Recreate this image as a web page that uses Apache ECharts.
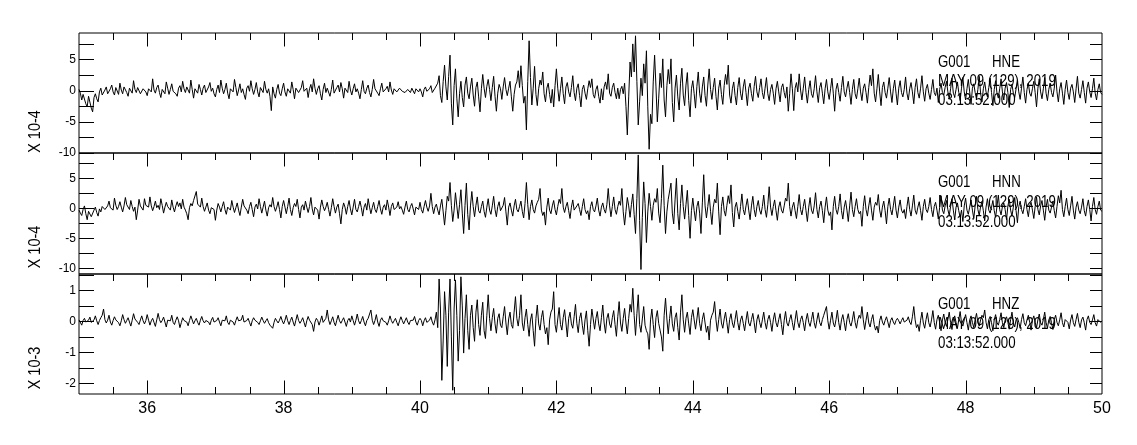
<!DOCTYPE html>
<html><head><meta charset="utf-8">
<script src="https://cdn.jsdelivr.net/npm/echarts@6/dist/echarts.min.js"></script>
<style>html,body{margin:0;padding:0;background:#fff}#c{width:1137px;height:445px}#err{position:absolute;left:100px;top:0;color:red;font:12px sans-serif}</style>
</head><body><div id="c"></div><div id="err"></div>
<script>
window.onerror = function (m) { document.getElementById('err').textContent += ' ERR: ' + m; };
// sampling of the traces (seconds)
const T0 = 35, DT = 0.02;
// G001 HNE, units 1e-4 (one row per second)
const hne = [
0.2,-0.4,-1.5,-0.6,-0.8,-2.1,-2.6,-0.9,-1.2,-2.8,-3.4,-1.1,-0.5,-1.3,-1.8,-0.2,0.4,-0.7,-1.0,0.1,0.6,-0.5,-0.4,0.3,0.9,-0.2,-0.7,0.5,0.3,-0.6,1.2,0.1,-0.5,0.6,0.8,-0.3,-0.9,0.4,0.5,-0.4,1.6,0.2,-0.3,0.5,0.7,-0.5,-0.6,0.3,0.4,-0.2,
-0.8,0.3,0.6,-0.2,1.9,0.1,-0.4,0.5,0.9,-0.3,-1.1,0.2,0.3,-0.5,1.4,0.4,-0.6,0.2,1.1,-0.1,0.2,-0.5,-0.9,0.4,0.8,-0.2,1.5,0.3,-0.3,0.6,0.8,-0.4,1.7,0.2,-1.2,0.3,0.5,-0.4,1.0,0.2,-0.7,0.4,0.9,-0.3,-0.2,0.6,1.3,-0.1,0.4,-0.5,
-1.0,0.2,0.9,-0.3,1.7,0.4,-0.5,0.2,1.2,-0.4,-1.3,0.3,0.6,-0.2,1.8,0.5,-0.8,0.1,1.1,-0.3,0.3,-0.6,-1.4,0.4,0.8,-0.1,1.6,0.3,-0.6,0.2,1.3,-0.2,-1.0,0.5,0.7,-0.3,1.5,0.2,-0.4,0.3,-0.9,-3.2,0.6,-0.5,-1.2,0.2,1.0,-0.4,-0.8,0.3,
1.2,-0.2,-0.9,0.3,0.5,-0.4,1.4,0.2,-1.3,0.4,0.7,-0.3,-0.4,0.5,1.6,-0.1,0.2,0.4,-1.1,0.3,1.0,-0.2,1.9,0.4,-0.6,0.3,0.8,-0.5,-1.5,0.2,1.2,-0.3,0.4,0.6,-0.9,0.2,1.7,-0.4,-0.3,0.5,0.9,-0.2,1.3,0.3,-1.2,0.4,0.6,-0.3,1.5,0.1,
-0.7,0.3,1.1,-0.2,0.3,-0.4,-1.3,0.2,1.6,-0.1,-0.5,0.4,0.9,-0.3,-1.0,0.2,1.8,0.3,0.2,-0.4,-0.8,0.3,1.2,-0.2,-0.4,0.3,0.7,-0.2,1.4,0.1,-0.6,0.3,0.5,-0.2,-0.3,0.4,0.6,-0.1,0.2,-0.3,-0.6,0.2,0.5,-0.3,0.4,0.1,-0.5,0.3,0.6,-0.2,
0.3,-0.2,-1.0,0.2,0.6,-0.1,-0.4,0.3,0.8,-0.3,-0.2,0.4,0.5,1.2,2.4,-0.8,-1.9,1.5,4.1,0.6,-1.5,2.3,5.7,-2.0,-5.5,0.8,3.5,-1.2,-4.2,-0.5,1.5,-1.1,-2.6,0.9,2.2,-0.4,-1.3,0.6,2.0,-0.7,-2.5,0.5,1.4,-1.0,-3.4,0.3,2.6,0.4,-1.1,0.7,
1.8,0.2,-1.6,0.5,2.3,-0.9,-3.3,-0.4,1.0,0.3,-1.4,0.6,2.1,0.2,-0.8,0.4,1.5,-1.0,-3.3,-0.6,0.9,1.4,3.2,0.5,4.0,0.8,-2.0,-0.9,-6.3,1.5,8.0,2.1,-2.3,0.4,3.9,-0.6,-2.4,0.3,1.7,0.9,3.0,-0.5,-1.8,0.4,1.2,-0.6,-2.0,0.2,-2.6,0.8,
3.5,0.4,-1.7,0.3,2.2,-0.5,-2.1,0.6,1.3,-0.2,-1.0,0.5,2.4,-0.3,-1.6,0.4,1.1,-0.8,-2.6,0.2,0.9,-0.4,-1.4,0.3,1.6,0.5,1.9,-0.6,-1.2,0.2,0.8,-0.9,-2.0,0.3,-1.5,0.6,1.4,0.2,2.7,-0.4,-0.9,0.5,1.2,-0.3,-1.3,0.4,-1.3,0.2,0.7,-0.5,
1.2,-2.5,-7.1,-1.0,4.6,2.2,7.5,3.0,8.8,1.5,-5.5,-1.8,2.0,-0.8,4.3,1.2,6.4,-2.6,-9.4,-3.8,-5.3,1.4,5.7,0.6,-5.0,-1.2,2.8,0.5,5.1,-1.5,-4.2,0.8,3.4,1.1,5.1,-1.9,-5.0,0.4,2.5,-1.0,-3.1,1.2,3.6,-0.7,-2.4,0.9,2.9,-1.6,-4.2,0.3,
1.6,-0.5,-2.8,0.7,3.0,-0.4,-1.9,0.6,2.2,-0.8,-2.5,0.9,3.5,0.2,-1.4,0.5,2.0,-0.9,-3.1,0.4,1.7,-0.6,-2.2,0.8,2.6,1.0,4.1,-0.7,-2.0,0.3,1.4,-0.8,-2.3,0.5,2.1,-0.4,-1.5,0.6,1.8,-0.3,-2.4,0.4,1.2,-0.5,-1.7,0.7,2.3,-0.2,-1.1,0.5,
1.9,-0.3,-1.3,0.4,2.1,-0.5,-1.6,0.2,1.0,-0.4,-2.2,0.3,1.5,-0.2,-1.8,0.5,1.1,-0.3,-1.2,0.6,-3.3,-0.5,2.7,0.3,-3.2,0.4,1.3,-0.2,2.7,0.1,-1.5,0.4,2.2,-0.3,-2.0,0.2,1.6,-0.5,-1.1,0.3,2.4,-0.2,-1.9,0.5,1.3,-0.4,-2.1,0.3,1.8,-0.2,
-1.4,0.3,2.0,-0.4,-3.3,0.2,1.2,-0.3,-1.7,0.5,2.3,-0.2,-1.0,0.4,1.5,-0.3,-2.2,0.2,1.8,-0.5,-1.3,0.3,2.0,-0.2,-1.6,0.4,1.1,-0.3,-2.0,0.5,2.5,0.8,3.5,-0.4,-1.8,0.3,2.6,-0.2,-2.4,0.5,1.4,-0.3,-1.2,0.4,2.1,-0.2,-1.9,0.3,1.7,-0.4,
-2.3,0.4,1.6,-0.3,-1.0,0.2,2.2,-0.4,-1.5,0.3,1.3,-0.2,-2.1,0.5,1.9,-0.3,-1.2,0.4,2.4,-0.2,-1.7,0.3,1.0,-0.4,-1.4,0.2,1.8,-0.3,-0.8,0.4,-1.9,0.2,1.2,-0.3,-0.7,0.5,1.5,-0.2,-1.3,0.3,2.0,-0.4,-1.0,0.2,1.4,-0.3,-1.6,0.4,2.1,-0.2,
-1.5,0.3,1.8,-0.2,-2.2,0.4,1.1,-0.3,-1.3,0.2,2.3,-0.4,-1.8,0.3,1.4,-0.2,-1.0,0.5,2.0,-0.3,-2.4,0.2,1.6,-0.4,-1.2,0.3,1.9,-0.2,-1.5,0.4,1.3,-0.3,-2.7,0.2,1.0,-0.4,-1.1,0.3,1.7,-0.2,-1.4,0.4,2.2,-0.3,-2.0,0.2,1.2,-0.4,-0.9,0.3,
1.5,-0.3,-2.6,0.4,1.9,-0.2,-1.3,0.3,2.1,-0.4,-1.6,0.2,1.2,-0.3,-1.0,0.4,2.5,-0.2,-1.8,0.3,1.3,-0.4,-2.2,0.2,1.7,-0.3,-1.4,0.4,1.0,-0.2,-1.9,0.3,2.3,-0.4,-1.2,0.2,1.6,-0.3,-2.0,0.4,1.4,-0.2,-1.1,0.3,2.0,-0.4,-1.5,0.2,1.1,-0.3,
-0.6];
// G001 HNN, units 1e-4
const hnn = [
-0.3,-0.8,-1.2,-0.2,0.4,-0.9,-1.9,-0.5,-0.8,-1.4,-1.5,-0.3,0.2,-0.7,-1.3,-0.1,-0.6,0.3,0.5,-0.2,-0.4,0.4,1.2,0.1,0.3,-0.3,1.7,0.5,-0.2,0.3,1.1,0.2,-0.6,0.4,1.8,0.6,0.4,-0.2,1.3,0.3,-0.5,0.2,-1.9,-0.3,1.5,0.4,0.2,-0.3,1.6,0.5,
0.7,0.2,1.9,0.4,-0.4,0.3,1.2,0.1,0.5,-0.2,1.6,0.5,-0.8,0.2,1.0,0.3,0.3,-0.3,1.4,0.2,-0.6,0.4,1.1,0.3,0.9,-0.1,1.5,0.2,-0.3,-0.9,-1.9,0.1,0.8,0.4,1.3,1.0,2.8,0.7,0.6,0.2,1.7,0.3,-0.5,0.2,0.9,-0.3,-0.9,0.1,0.4,-0.2,
-2.0,-0.3,0.8,0.2,-0.6,0.3,1.1,-0.2,-1.0,0.2,0.5,-0.3,1.3,0.2,-0.7,0.1,0.9,-0.3,-1.2,0.2,1.5,0.4,0.2,-0.3,-0.9,0.3,1.0,-0.2,-1.4,0.2,0.7,-0.1,1.6,0.3,-0.8,0.2,1.2,-0.3,-1.3,0.1,0.6,0.2,1.8,0.3,-0.5,0.2,1.1,-0.2,-1.6,0.3,
1.3,0.2,-0.9,0.3,1.7,-0.2,-1.2,0.1,0.8,0.3,1.5,-0.2,-1.6,0.2,0.6,-0.3,1.2,0.2,-0.7,0.3,1.8,-0.1,-1.1,0.2,0.5,-0.3,-1.8,0.2,1.4,0.3,-0.4,0.2,1.0,-0.2,-1.3,0.1,1.6,0.3,-0.8,0.2,0.7,-0.9,-2.6,-0.2,0.9,0.2,-1.0,0.3,1.3,-0.1,
-1.1,0.2,1.5,-0.2,-0.6,0.3,1.2,0.1,-1.3,0.2,0.8,-0.3,1.6,0.2,-0.9,0.1,1.0,-0.2,-0.7,0.3,1.3,-0.1,-1.0,0.2,0.6,-0.3,1.4,0.2,-1.2,0.3,0.9,-0.2,-0.5,0.2,1.1,-0.1,0.3,-0.3,-1.0,0.2,1.2,-0.2,-0.6,0.3,0.8,-0.1,-1.1,0.2,0.5,-0.2,
1.0,-0.2,-0.8,0.3,1.3,0.2,-0.5,0.4,2.5,0.3,-0.9,0.2,0.7,-0.3,-1.1,0.4,1.5,-0.6,-2.8,-0.4,2.0,1.2,4.3,0.5,-2.2,-0.3,2.6,0.4,-1.7,0.6,3.1,-0.8,-4.2,0.5,4.2,-1.0,-3.6,0.4,2.8,0.3,-1.4,0.5,1.9,-0.4,-0.8,0.3,1.2,-0.5,-1.5,0.2,
1.6,-0.3,-1.0,0.4,2.0,-0.2,-1.4,0.3,1.1,-0.4,-0.7,0.5,1.8,-0.6,-2.8,0.2,0.9,-0.3,-1.3,0.4,1.5,-0.2,-0.6,0.3,1.2,-0.5,-1.6,0.8,4.3,0.6,-1.9,0.3,1.4,-0.2,-0.8,0.4,1.0,1.5,3.3,-0.3,-1.2,-0.6,-2.8,0.2,1.7,-0.3,-0.9,0.4,1.3,-0.2,
-1.1,0.3,1.5,0.8,3.3,0.2,-0.7,0.3,1.0,-0.4,-1.7,0.2,1.4,-0.3,-0.5,0.4,0.8,-0.2,-1.2,0.3,1.6,-0.2,-0.9,-0.4,-1.9,0.3,1.1,-0.2,-0.6,0.4,1.7,-0.3,-1.3,0.2,0.9,-0.2,-0.8,0.6,3.3,0.4,-1.4,0.3,1.9,-0.2,-1.0,0.3,1.2,0.5,3.3,-0.6,
-2.8,-0.5,1.8,0.4,-1.5,0.6,2.4,-1.0,-4.2,1.6,8.9,-2.0,-10.2,-1.5,4.4,0.8,-5.7,-0.6,2.5,0.3,-2.0,0.5,1.6,1.0,3.3,-0.8,-2.4,1.6,7.2,0.5,-4.2,-0.6,1.5,1.2,4.2,-0.8,-2.6,1.4,5.0,-0.9,-3.6,0.8,3.9,0.3,-1.8,0.6,3.0,-1.2,-5.0,-0.4,
1.7,-0.4,-2.1,0.3,1.2,-0.8,-4.2,0.9,5.6,0.4,-1.6,0.3,2.3,-0.5,-2.7,0.2,1.5,0.9,4.2,-0.6,-4.4,0.3,1.9,-0.4,-1.3,0.5,2.1,0.8,3.9,-0.7,-3.1,0.2,1.0,-0.5,-1.8,0.3,2.4,-0.2,-1.1,0.4,1.6,-0.3,-1.9,0.4,2.0,-0.2,-1.4,0.3,1.3,-0.3,
-1.0,0.3,2.2,-0.2,-1.5,0.6,3.6,0.2,-1.2,0.3,1.4,-0.4,-2.0,0.2,1.1,-0.3,-0.8,0.4,1.7,1.2,4.2,0.3,-1.3,0.2,1.0,-0.4,-1.7,0.3,2.3,-0.2,-1.1,0.3,1.5,-0.4,-2.2,0.2,1.8,-0.3,-0.9,0.4,2.6,-0.2,-1.6,0.3,1.2,-0.4,-2.4,0.2,1.9,-0.3,
-1.2,-0.6,-3.6,0.3,2.0,-0.2,-1.0,0.3,2.4,-0.4,-1.8,0.2,1.3,-0.3,-2.2,0.4,2.7,-0.2,-1.4,0.3,1.6,-0.2,-0.9,-0.5,-3.0,0.3,2.1,-0.2,-1.3,0.4,1.8,-0.3,-2.0,0.2,1.0,0.5,2.3,-0.3,-1.5,0.2,1.2,-0.4,-2.6,0.3,1.7,-0.2,-1.1,0.4,2.0,-0.3,
-1.6,0.2,1.4,-0.3,-0.8,-0.2,-1.7,0.3,1.9,-0.2,-1.3,0.4,2.2,-0.3,-1.0,0.2,1.1,-0.4,-2.0,0.3,1.5,-0.2,-0.7,0.3,1.8,-0.2,-1.4,0.3,1.0,-0.3,-1.8,0.2,2.1,-0.3,-0.9,0.4,1.3,-0.2,-1.2,0.3,1.6,-0.3,-1.9,0.2,0.9,-0.4,-1.5,-0.3,-2.2,0.4,
1.7,-0.3,-1.0,0.2,1.4,-0.3,-1.7,0.4,2.0,-0.2,-1.2,0.3,1.1,-0.4,-2.1,0.2,1.6,-0.3,-0.8,0.2,1.3,-0.4,-1.5,0.3,2.2,-0.2,-1.1,0.3,0.9,-0.2,-1.9,0.4,1.5,-0.3,-1.3,0.2,1.8,-0.4,-2.4,0.3,1.2,-0.2,-0.9,0.3,1.6,-0.2,-1.4,0.4,1.0,-0.3,
-1.7,0.3,1.9,-0.2,-1.1,0.4,1.3,-0.3,-2.0,0.2,1.5,-0.3,-0.8,0.2,1.2,-0.4,-1.6,0.3,2.1,0.9,3.0,-0.2,-1.4,0.3,1.7,-0.2,-1.2,0.4,2.0,-0.3,-1.8,0.2,1.1,-0.3,-0.9,0.2,1.6,-0.4,-1.3,0.3,1.4,-0.2,-2.1,0.3,1.8,-0.2,-1.0,0.3,1.2,-0.3,
-0.5];
// G001 HNZ, units 1e-3
const hnz = [
0.05,0.02,-0.12,0.03,0.10,-0.02,-0.08,0.04,0.14,-0.03,-0.06,0.05,0.18,0.02,-0.10,0.03,0.12,0.20,0.40,0.06,-0.05,0.04,0.20,-0.02,-0.12,0.03,0.15,0.05,0.08,-0.04,-0.14,0.02,0.22,0.06,-0.06,0.03,0.12,-0.02,-0.15,0.04,0.25,0.08,0.02,-0.03,-0.10,0.05,0.18,0.02,-0.08,0.03,
0.22,0.04,-0.12,0.02,0.10,-0.03,-0.16,0.05,0.26,0.06,-0.04,0.03,0.14,-0.02,-0.18,0.04,0.08,0.02,0.20,-0.03,-0.10,0.04,0.15,0.02,-0.20,-0.04,0.12,0.03,0.05,-0.02,-0.14,0.03,0.18,0.05,-0.08,0.02,0.10,-0.03,-0.12,0.04,0.16,0.02,-0.05,0.03,0.09,-0.02,-0.11,0.04,0.13,-0.02,
-0.06,0.03,0.12,-0.02,-0.14,0.04,0.08,0.02,0.18,-0.03,-0.10,0.04,0.06,-0.02,-0.12,0.03,0.15,0.02,-0.04,0.05,0.20,-0.02,-0.08,0.03,0.10,-0.03,-0.15,0.02,0.12,0.04,0.04,-0.03,-0.10,0.02,0.14,0.03,-0.06,0.02,0.09,-0.04,-0.12,-0.08,-0.22,-0.03,0.10,0.02,-0.05,0.04,0.16,0.02,
-0.08,0.04,0.20,0.02,-0.10,0.03,0.14,-0.02,-0.15,0.04,0.22,0.03,-0.06,0.02,0.12,-0.03,-0.18,0.02,0.16,0.04,0.04,-0.10,-0.32,-0.02,0.10,0.03,-0.12,0.02,0.18,-0.03,-0.08,0.10,0.37,0.05,-0.10,0.02,0.15,-0.03,-0.14,0.04,0.20,0.02,-0.06,0.03,0.12,-0.02,-0.16,0.03,0.10,-0.02,
0.18,0.03,-0.12,0.04,0.24,0.02,-0.08,0.03,0.16,-0.02,-0.14,0.03,0.10,0.12,0.37,0.04,-0.10,0.03,0.22,-0.02,-0.16,0.04,0.12,0.02,0.05,-0.03,-0.12,0.02,0.18,0.03,-0.06,0.02,0.10,-0.03,-0.14,0.02,0.15,0.03,-0.08,0.02,0.12,-0.02,-0.10,0.03,0.08,0.04,0.16,-0.02,-0.12,0.03,
0.10,0.03,-0.14,0.02,0.12,-0.03,-0.08,0.04,0.15,-0.02,-0.12,0.05,0.30,-0.20,1.37,0.40,-1.90,-0.60,0.96,0.20,-1.45,0.30,1.37,-0.50,-2.22,0.40,1.34,0.20,-1.28,-0.30,1.44,0.50,-1.02,0.10,0.86,-0.30,-0.90,0.20,0.53,-0.20,-0.64,0.30,0.70,-0.10,-0.45,0.20,0.62,-0.30,-0.55,0.20,
0.86,0.10,-0.30,0.12,0.42,-0.08,-0.38,0.10,0.25,-0.12,-0.20,0.15,0.48,-0.05,-0.43,0.08,0.30,-0.10,-0.22,0.30,0.80,0.10,-0.15,0.20,0.86,-0.05,-0.30,0.12,0.40,-0.10,-0.48,0.05,0.25,-0.30,-0.80,0.10,0.53,-0.08,-0.28,0.12,0.35,-0.10,-0.40,-0.20,-0.75,0.05,0.30,0.40,0.96,-0.10,
-0.35,0.08,0.45,-0.10,-0.28,0.12,0.38,-0.05,-0.50,0.10,0.30,-0.08,-0.22,0.15,0.55,-0.06,-0.36,0.10,0.28,-0.12,-0.42,0.05,0.34,-0.30,-0.80,-0.10,0.40,0.08,-0.25,0.10,0.32,-0.08,-0.30,0.12,0.53,-0.05,-0.38,0.10,0.26,-0.08,-0.20,0.12,0.35,-0.10,-0.48,0.15,0.64,-0.05,-0.32,0.10,
0.42,-0.05,-0.40,0.10,0.55,0.30,1.07,0.20,-0.45,0.25,0.86,-0.10,-0.35,0.08,0.48,-0.12,-0.30,-0.40,-0.90,0.05,0.40,-0.10,-0.52,0.12,0.35,-0.06,-0.28,-0.50,-0.96,0.20,0.75,0.08,-0.40,0.10,0.50,-0.08,-0.32,0.12,0.28,-0.20,-0.60,0.30,0.86,0.05,-0.35,0.10,0.30,-0.08,-0.42,0.12,
0.38,0.05,-0.25,0.08,0.45,-0.06,-0.30,0.07,0.28,-0.05,-0.35,-0.15,-0.60,0.04,0.20,0.30,0.64,0.05,-0.32,0.06,0.40,-0.05,-0.22,0.08,0.30,-0.04,-0.38,0.06,0.25,-0.05,-0.20,0.07,0.35,-0.04,-0.28,0.05,0.18,-0.06,-0.30,0.04,0.32,-0.05,-0.15,0.06,0.26,-0.04,-0.37,0.05,0.22,-0.03,
-0.20,0.05,0.30,-0.04,-0.25,0.06,0.20,-0.03,-0.32,0.05,0.28,-0.04,-0.18,0.06,0.25,-0.10,-0.43,0.04,0.32,-0.05,-0.15,0.06,0.22,-0.04,-0.28,0.05,0.35,-0.03,-0.20,0.06,0.18,-0.04,-0.30,0.05,0.26,-0.03,-0.16,0.06,0.30,-0.04,-0.22,0.05,0.28,-0.03,-0.14,0.06,0.20,0.15,0.48,0.02,
-0.25,0.04,0.30,-0.05,-0.18,0.06,0.36,-0.04,-0.28,0.05,0.22,-0.03,-0.30,0.06,0.25,-0.04,-0.15,0.05,0.32,-0.03,-0.22,0.06,0.20,0.10,0.48,0.05,-0.26,0.04,0.30,-0.05,-0.18,0.06,0.22,-0.10,-0.28,-0.15,-0.37,0.03,0.18,-0.02,-0.12,0.03,0.15,-0.02,-0.20,0.03,0.12,-0.02,-0.10,0.03,
0.10,0.02,-0.08,0.03,0.12,-0.02,-0.06,0.04,0.15,-0.02,-0.10,0.15,0.48,0.05,-0.20,-0.10,-0.32,0.04,0.30,-0.05,-0.22,0.06,0.28,-0.04,-0.18,0.05,0.35,-0.03,-0.25,0.06,0.20,-0.04,-0.30,0.05,0.24,-0.03,-0.16,0.06,0.30,-0.04,-0.26,0.05,0.18,-0.03,-0.22,0.06,0.32,-0.04,-0.15,0.05,
0.22,-0.04,-0.28,0.05,0.18,-0.03,-0.20,0.06,0.26,-0.04,-0.15,0.05,0.20,0.12,0.37,-0.03,-0.24,0.06,0.16,-0.04,-0.30,0.05,0.22,-0.03,-0.12,0.06,0.28,-0.04,-0.20,0.05,0.15,-0.03,-0.25,0.06,0.30,-0.04,-0.18,0.05,0.12,-0.03,-0.22,0.06,0.25,-0.04,-0.14,0.05,0.20,-0.03,-0.28,0.04,
0.18,-0.03,-0.20,0.05,0.24,-0.04,-0.12,0.06,0.30,-0.03,-0.22,0.05,0.16,-0.04,-0.26,0.06,0.20,-0.03,-0.14,0.05,0.28,-0.04,-0.18,0.06,0.12,-0.03,-0.24,0.05,0.22,-0.04,-0.16,0.06,0.26,-0.03,-0.20,0.05,0.14,-0.04,-0.28,0.06,0.18,-0.03,-0.10,0.05,0.22,-0.04,-0.15,0.06,0.10,-0.03,
0.02];

const xMin = 35, xMax = 50;
const xMinorTicks = [35.5,36,36.5,37,37.5,38,38.5,39,39.5,40,40.5,41,41.5,42,42.5,43,43.5,44,44.5,45,45.5,46,46.5,47,47.5,48,48.5,49,49.5];
const xMajorTicks = [36, 38, 40, 42, 44, 46, 48, 50];
const yRanges = [[-10, 9.25], [-10.95, 9.22], [-2.34, 1.53]];
const yTicks = [
  [-10, -7.5, -5, -2.5, 0, 2.5, 5, 7.5],
  [-10, -7.5, -5, -2.5, 0, 2.5, 5, 7.5],
  [-2, -1.5, -1, -0.5, 0, 0.5, 1, 1.5]];
const yLabels = [[-10, -5, 0, 5], [-10, -5, 0, 5], [-2, -1, 0, 1]];
const unitLabels = ['X 10-4', 'X 10-4', 'X 10-3'];
const station = 'G001';
const channels = ['HNE', 'HNN', 'HNZ'];
const dateText = 'MAY 09 (129), 2019';
const timeText = '03:13:52.000';
const traces = [hne, hnn, hnz];

const FONT = '"Liberation Sans","Arimo",sans-serif';
const panels = [{top: 33, height: 120}, {top: 153, height: 121}, {top: 274, height: 120}];
const unitPos = [131.5, 247, 368];
const textRows = [[63, 82, 101], [183, 203, 223], [305, 325, 344]];
// tick lengths in px: minor x, major x, left y, right y
const TICK_LEN = {minor: 7, major: 13.5, left: 15, right: 12};

const option = {animation: false, grid: [], xAxis: [], yAxis: [], series: [], graphic: []};
const noSplit = {show: false};
panels.forEach((g, i) => {
  option.grid.push({left: 79, width: 1023, top: g.top, height: g.height, show: true,
    borderColor: '#000', borderWidth: 1, backgroundColor: 'transparent'});
  const last = i === panels.length - 1;
  option.xAxis.push({gridIndex: i, type: 'value', min: xMin, max: xMax, position: 'bottom',
    axisLine: {show: false, onZero: false}, axisTick: {show: false},
    axisLabel: {show: last, customValues: xMajorTicks, color: '#000', fontFamily: FONT, fontSize: 16, margin: 7},
    splitLine: noSplit});
  option.yAxis.push({gridIndex: i, type: 'value', min: yRanges[i][0], max: yRanges[i][1], position: 'left',
    axisLine: {show: false, onZero: false}, axisTick: {show: false},
    axisLabel: {show: true, customValues: yLabels[i], color: '#000', fontFamily: FONT, fontSize: 12, margin: 3},
    splitLine: noSplit});
  option.series.push({type: 'line', xAxisIndex: i, yAxisIndex: i, showSymbol: false, symbol: 'none',
    sampling: null, z: 5, lineStyle: {color: '#000', width: 1},
    data: traces[i].map((v, k) => [+(T0 + k * DT).toFixed(2), v])});

  option.graphic.push({type: 'text', x: 35, y: unitPos[i], rotation: Math.PI / 2, scaleX: 0.85, z: 1,
    style: {text: unitLabels[i], font: '17px ' + FONT, fill: '#000', textAlign: 'center', textVerticalAlign: 'middle'}});
  const r = textRows[i];
  const txt = (x, y, s) => ({type: 'text', x: x, y: y, scaleX: 0.83, z: 1,
    style: {text: s, font: '16px ' + FONT, fill: '#000', textAlign: 'left', textVerticalAlign: 'middle'}});
  option.graphic.push(txt(938, r[0], station));
  option.graphic.push(txt(992, r[0], channels[i]));
  option.graphic.push(txt(938, r[1], dateText));
  option.graphic.push(txt(938, r[2], timeText));
});

try {
  const chart = echarts.init(document.getElementById('c'), null, {renderer: 'canvas'});
  chart.setOption(option);
  // tick marks: positions come from the axes' scales via convertToPixel
  const tickEls = [];
  const seg = (x1, y1, x2, y2) => tickEls.push({type: 'line', z: 10, silent: true,
    shape: {x1: x1, y1: y1, x2: x2, y2: y2}, style: {stroke: '#000', lineWidth: 1}});
  panels.forEach((g, i) => {
    const last = i === panels.length - 1;
    const pt = (x, y) => chart.convertToPixel({gridIndex: i}, [x, y]);
    const top = Math.round(pt(xMin, yRanges[i][1])[1]);
    const bot = Math.round(pt(xMin, yRanges[i][0])[1]);
    const lft = Math.round(pt(xMin, 0)[0]);
    const rgt = Math.round(pt(xMax, 0)[0]);
    const xTick = (t, len) => {
      const px = Math.round(pt(t, 0)[0]) + 0.5;
      seg(px, top, px, top + len);
      if (last) seg(px, bot, px, bot - len);
    };
    xMinorTicks.forEach(t => xTick(t, TICK_LEN.minor));
    xMajorTicks.filter(t => t < xMax).forEach(t => xTick(t, TICK_LEN.major));
    yTicks[i].forEach(t => {
      const py = Math.round(pt(xMin, t)[1]) + 0.5;
      seg(lft, py, lft + TICK_LEN.left, py);
      seg(rgt, py, rgt - TICK_LEN.right, py);
    });
  });
  chart.setOption({graphic: option.graphic.concat(tickEls)});
} catch (e) {
  document.getElementById('err').textContent += ' EXC: ' + e.message;
}
</script></body></html>
